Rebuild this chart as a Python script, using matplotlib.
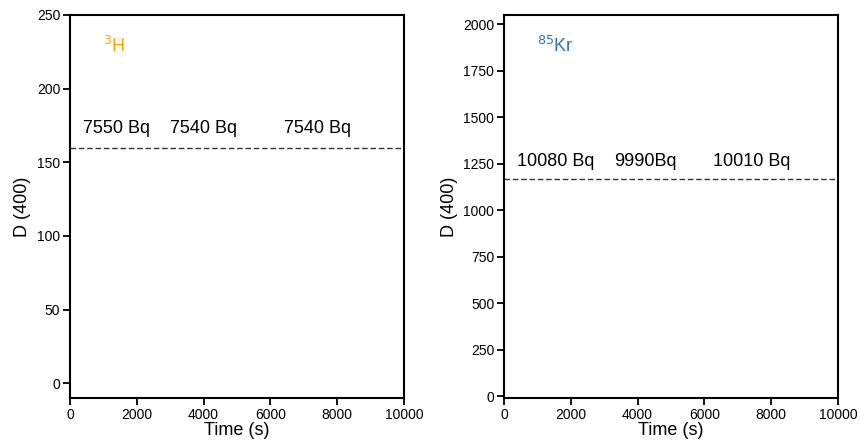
import matplotlib
matplotlib.use("Agg")
import matplotlib.pyplot as plt

plt.rcParams['font.family'] = ['Liberation Sans', 'DejaVu Sans']

# Detection limits for the two isotopes
h3_level = 160
kr_level = 1170

h3_labels = ["7550 Bq", "7540 Bq", "7540 Bq"]
h3_label_x = [400, 3000, 6400]
h3_label_y = 170

kr_labels = ["10080 Bq", "9990Bq", "10010 Bq"]
kr_label_x = [400, 3300, 6250]
kr_label_y = 1240

x_range = [0, 10000]
x_ticks = [0, 2000, 4000, 6000, 8000, 10000]
h3_yticks = [0, 50, 100, 150, 200, 250]
kr_yticks = [0, 250, 500, 750, 1000, 1250, 1500, 1750, 2000]

fig = plt.figure(figsize=(8.6, 4.45), dpi=100)
W, H = 860, 445
ax1 = fig.add_axes([70 / W, 1 - 398 / H, 334 / W, 383 / H])
ax2 = fig.add_axes([504 / W, 1 - 398 / H, 334 / W, 383 / H])

panels = [
    (ax1, h3_level, h3_labels, h3_label_x, h3_label_y, (-10, 250), h3_yticks,
     r"$^{3}$H", "#FFA500", 1000, 225),
    (ax2, kr_level, kr_labels, kr_label_x, kr_label_y, (-10, 2050), kr_yticks,
     r"$^{85}$Kr", "#2878B5", 1000, 1850),
]

for ax, level, labels, lx, ly, ylim, yticks, iso, col, ix, iy in panels:
    ax.axhline(level, color="#333333", linestyle=(0, (4, 2)), linewidth=1.0)
    for txt, x in zip(labels, lx):
        ax.text(x, ly, txt, fontsize=13, color="black", ha="left", va="baseline")
    ax.text(ix, iy, iso, fontsize=13, color=col, ha="left", va="baseline")
    ax.set_xlim(x_range)
    ax.set_ylim(ylim)
    ax.set_xticks(x_ticks)
    ax.set_yticks(yticks)
    ax.tick_params(axis="both", direction="out", length=5, width=1.3,
                   labelsize=10, pad=2)
    for s in ax.spines.values():
        s.set_linewidth(1.5)
    ax.set_xlabel("Time (s)", fontsize=13, labelpad=0)
    ax.set_ylabel("D (400)", fontsize=13, labelpad=4)

fig.savefig("out.png", dpi=100)
